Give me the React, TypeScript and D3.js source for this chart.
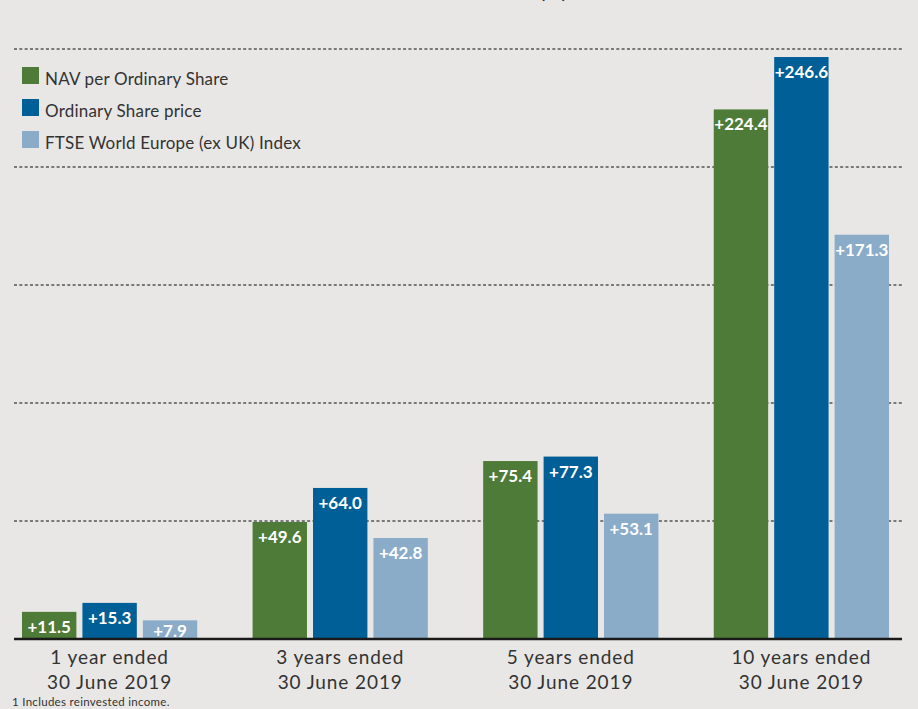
import React from "react";
import * as d3 from "d3";

const categories = ["1 year ended|30 June 2019", "3 years ended|30 June 2019", "5 years ended|30 June 2019", "10 years ended|30 June 2019"];
const seriesNames = ["NAV per Ordinary Share", "Ordinary Share price", "FTSE World Europe (ex UK) Index"];
const navValues = [11.5, 49.6, 75.4, 224.4];
const priceValues = [15.3, 64.0, 77.3, 246.6];
const indexValues = [7.9, 42.8, 53.1, 171.3];
const gridTicks = [50, 100, 150, 200, 250];
const colors = ["#4e7b37", "#005f96", "#8aacc9"];

const W = 918, H = 709;
const FONT = "Lato, 'Liberation Sans', sans-serif";

export default function App() {
  const series = [navValues, priceValues, indexValues];
  const y = d3.scaleLinear().domain([0, 250]).range([639, 49]);
  const x0 = d3.scaleBand<string>().domain(categories).range([22, 889]).paddingInner(0.24).paddingOuter(0);
  const x1 = d3.scaleBand<number>().domain([0, 1, 2]).range([0, x0.bandwidth()]).paddingInner(0.1);

  return (
    <svg width={W} height={H} style={{ position: "absolute", left: 0, top: 0, background: "#e8e7e5" }}>
      <rect x={0} y={0} width={W} height={H} fill="#e8e7e5" />
      <text x={567} y={-2} textAnchor="end" fontFamily={FONT} fontWeight="bold" fontSize={20} fill="#333">Total return¹ (%)</text>
      {gridTicks.map((t) => (
        <line key={t} x1={14} x2={902} y1={y(t)} y2={y(t)} stroke="#555" strokeWidth={1.5} strokeDasharray="3 2.33" />
      ))}
      {categories.map((c, ci) => (
        <g key={c} transform={`translate(${x0(c)},0)`}>
          {series.map((vals, si) => {
            const bx = x1(si)!;
            const bw = x1.bandwidth();
            const top = y(vals[ci]);
            return (
              <g key={si}>
                <rect x={bx} y={top} width={bw} height={y(0) - top} fill={colors[si]} />
                <text x={bx + bw / 2} y={Math.min(top + 21, y(0) - 2)} textAnchor="middle" fontFamily={FONT} fontWeight="bold" fontSize={17} fill="#fff">
                  {"+" + vals[ci].toFixed(1)}
                </text>
              </g>
            );
          })}
          <text textAnchor="middle" fontFamily={FONT} fontSize={19} letterSpacing={0.9} fill="#333">
            {c.split("|").map((line, li) => (
              <tspan key={li} x={x0.bandwidth() / 2} y={664 + li * 25}>{line}</tspan>
            ))}
          </text>
        </g>
      ))}
      <line x1={14} x2={902} y1={y(0)} y2={y(0)} stroke="#1a1a1a" strokeWidth={2.5} />
      {seriesNames.map((n, i) => (
        <g key={n} transform={`translate(22,${67 + i * 32})`}>
          <rect x={0} y={0} width={17} height={17} fill={colors[i]} />
          <text x={23} y={18} fontFamily={FONT} fontSize={17} letterSpacing={0.2} fill="#333">{n}</text>
        </g>
      ))}
      <text x={12} y={706} fontFamily={FONT} fontSize={11.5} letterSpacing={0.3} fill="#333">1 Includes reinvested income.</text>
    </svg>
  );
}
